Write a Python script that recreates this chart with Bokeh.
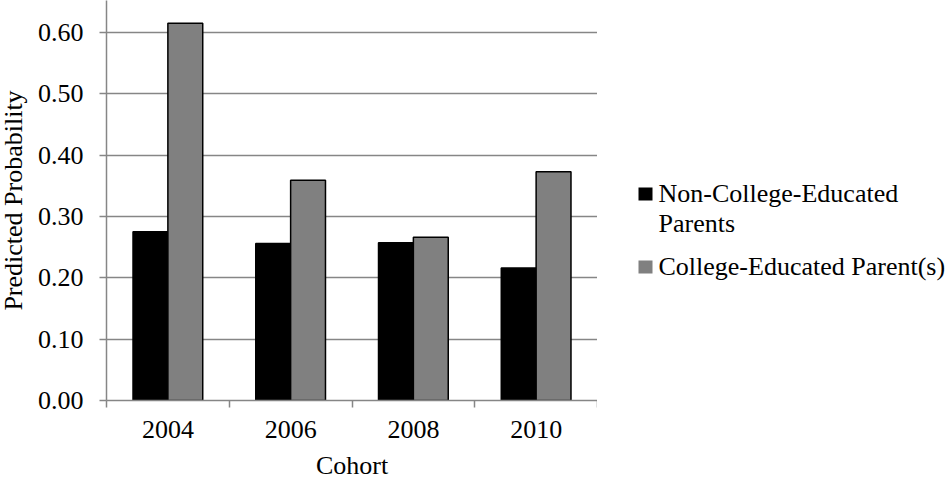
import numpy as np
from bokeh.plotting import figure
from bokeh.layouts import row
from bokeh.models import (ColumnDataSource, Range1d, FixedTicker,
                          NumeralTickFormatter, LinearAxis)
from bokeh.core.properties import value
from bokeh.transform import dodge
from bokeh.embed import file_html
from bokeh.resources import INLINE

cohorts = ["2004", "2006", "2008", "2010"]
non_college = [0.275, 0.256, 0.257, 0.216]
college = [0.615, 0.359, 0.266, 0.373]
y_ticks = [0.0, 0.1, 0.2, 0.3, 0.4, 0.5, 0.6]
series_names = ["Non-College-Educated\nParents", "College-Educated Parent(s)"]
series_colors = ["black", "#808080"]
y_title = "Predicted Probability"
x_title = "Cohort"

FONT = "Liberation Serif"
GRID = "#868686"
H = 482
BOTTOM = 82
FH = H - BOTTOM  # frame height shared by the aligned row

# ---------- y-axis title panel ----------
lab = figure(width=34, height=H, output_backend="svg", toolbar_location=None,
             x_range=Range1d(0, 34), y_range=Range1d(FH, 0),
             x_axis_location=None, y_axis_location=None,
             min_border=0, min_border_bottom=BOTTOM)
lab.outline_line_color = None
lab.grid.visible = False
lab.text(x=[12.5], y=[200], text=[y_title], angle=np.pi / 2,
         text_font=value(FONT), text_font_size="26px", text_color="black",
         text_align="center", text_baseline="alphabetic")

# ---------- main chart ----------
pos = np.arange(len(cohorts)) + 0.5
src = ColumnDataSource(dict(pos=pos, non=non_college, col=college))

p = figure(width=563, height=H, output_backend="svg", toolbar_location=None,
           x_range=Range1d(0, len(cohorts)), y_range=Range1d(0, 0.652),
           x_axis_location=None, y_axis_location=None,
           min_border_left=70, min_border_right=0, min_border_top=0, min_border_bottom=BOTTOM)
p.outline_line_color = None
p.xgrid.visible = False

p.vbar(x=dodge("pos", -0.142), top="non", width=0.284, source=src,
       fill_color=series_colors[0], line_color="black", line_width=1.5)
p.vbar(x=dodge("pos", 0.142), top="col", width=0.284, source=src,
       fill_color=series_colors[1], line_color="black", line_width=1.5)

xax = LinearAxis(ticker=FixedTicker(ticks=list(pos), minor_ticks=list(range(len(cohorts) + 1))),
                 major_label_overrides={float(v): c for v, c in zip(pos, cohorts)})
xax.major_tick_out = 0
xax.major_tick_in = 0
xax.minor_tick_out = 7
xax.minor_tick_in = 0
xax.minor_tick_line_color = GRID
xax.axis_line_color = GRID
xax.axis_line_width = 1.5
xax.minor_tick_line_width = 1.5
xax.major_label_text_font = FONT
xax.major_label_text_font_size = "26px"
xax.major_label_text_color = "black"
xax.major_label_standoff = 13
xax.axis_label = x_title
xax.axis_label_text_font = FONT
xax.axis_label_text_font_size = "26px"
xax.axis_label_text_font_style = "normal"
xax.axis_label_text_color = "black"
xax.axis_label_standoff = 10
p.add_layout(xax, "below")

yax = LinearAxis(ticker=FixedTicker(ticks=y_ticks), formatter=NumeralTickFormatter(format="0.00"))
yax.major_tick_out = 7
yax.major_tick_in = 0
yax.minor_tick_line_color = None
yax.major_tick_line_color = GRID
yax.major_tick_line_width = 1.5
yax.axis_line_color = GRID
yax.axis_line_width = 1.5
yax.major_label_text_font = FONT
yax.major_label_text_font_size = "26px"
yax.major_label_text_color = "black"
yax.major_label_standoff = 16
p.add_layout(yax, "left")

p.ygrid.ticker = FixedTicker(ticks=y_ticks)
p.ygrid.grid_line_color = GRID
p.ygrid.grid_line_width = 1.5

# ---------- legend panel ----------
lg = figure(width=354, height=H, output_backend="svg", toolbar_location=None,
            x_range=Range1d(0, 354), y_range=Range1d(FH, 0),
            x_axis_location=None, y_axis_location=None,
            min_border=0, min_border_bottom=BOTTOM)
lg.outline_line_color = None
lg.grid.visible = False

lg.rect(x=[48, 48], y=[193.5, 266.5], width=14, height=13,
        fill_color=series_colors, line_color=None)
label_lines = series_names[0].split("\n") + series_names[1].split("\n")
lg.text(x=[61, 61, 61], y=[192.5, 222.5, 265.5], text=label_lines,
        text_font=value(FONT), text_font_size="26px", text_color="black",
        text_align="left", text_baseline="alphabetic")

layout = row(lab, p, lg)
open("out.html", "w").write(file_html(layout, INLINE))
